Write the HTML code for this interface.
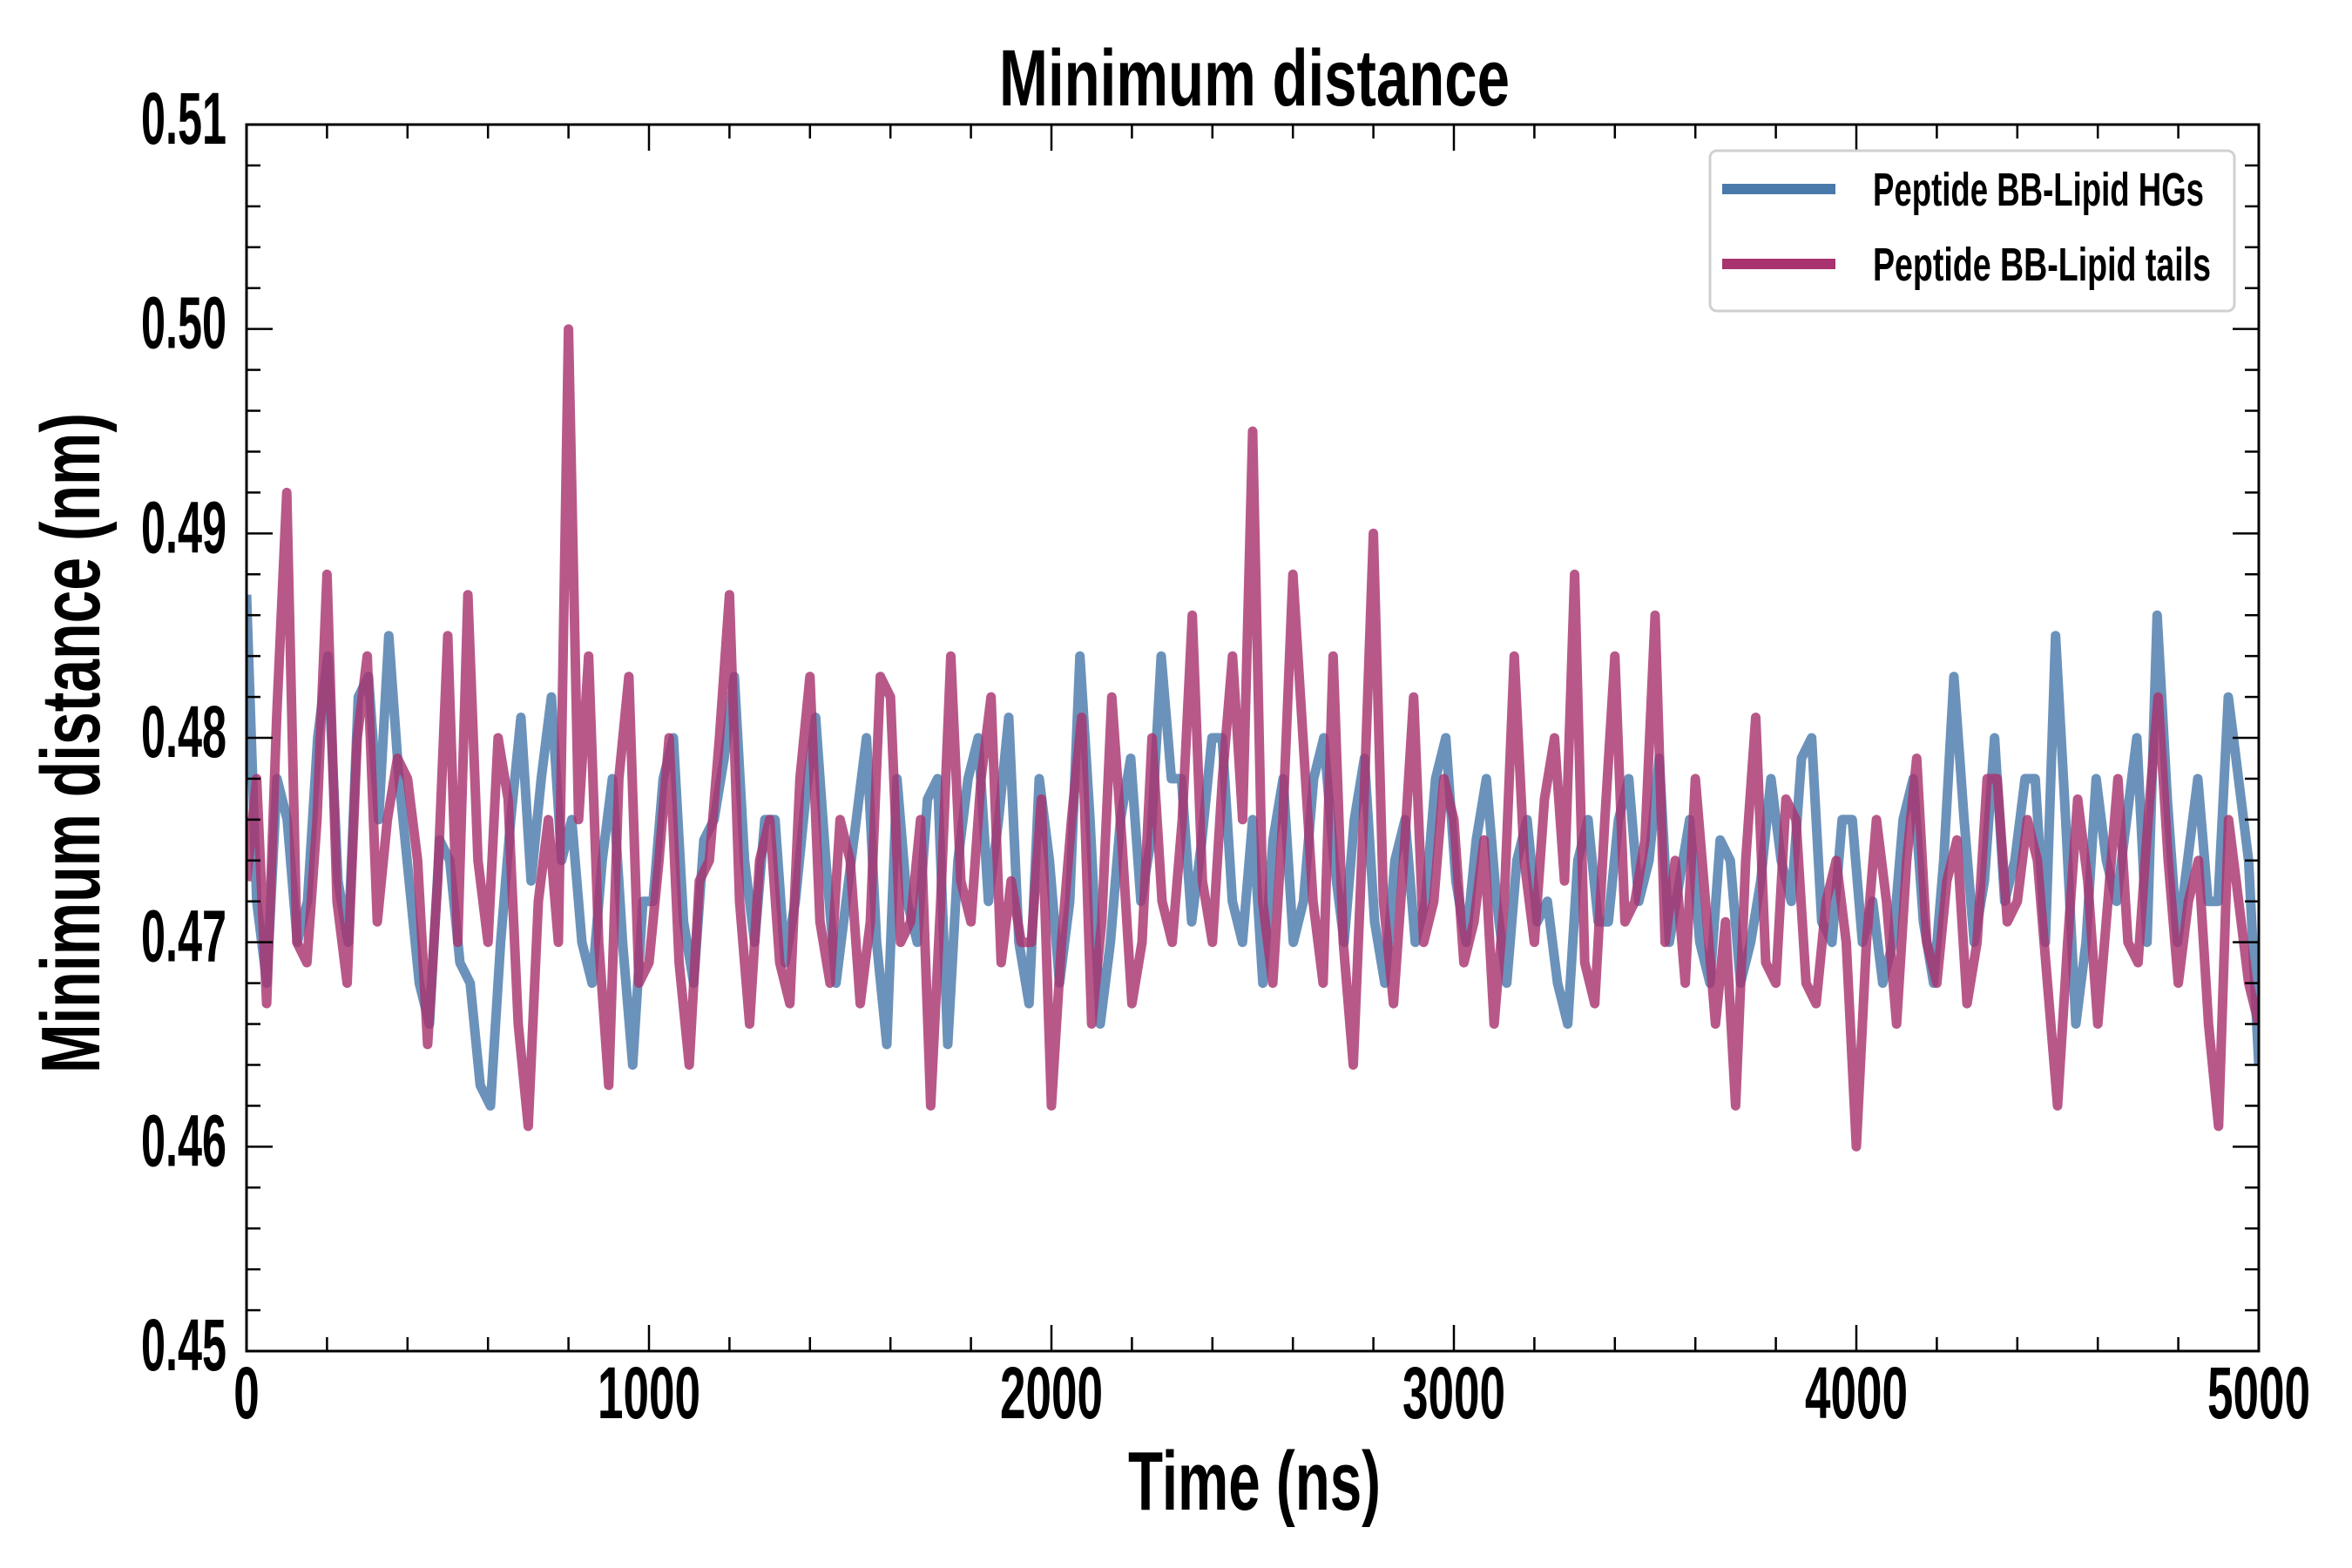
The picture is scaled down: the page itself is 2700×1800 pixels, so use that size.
<!DOCTYPE html>
<html><head><meta charset="utf-8">
<style>
html,body{margin:0;padding:0;background:#fff;}
svg{display:block;}
text{font-family:"Liberation Sans Narrow","Liberation Sans",sans-serif;font-weight:bold;fill:#000;}
</style></head>
<body>
<svg id="chart" width="2700" height="1800" xmlns="http://www.w3.org/2000/svg"></svg>
<script>
const xTicks = [0,1000,2000,3000,4000,5000];
const xTickLabels = ["0","1000","2000","3000","4000","5000"];
const yTicks = [0.45,0.46,0.47,0.48,0.49,0.50,0.51];
const yTickLabels = ["0.45","0.46","0.47","0.48","0.49","0.50","0.51"];
const seriesNames = ["Peptide BB-Lipid HGs","Peptide BB-Lipid tails"];
const hgValues = [0.487,0.472,0.468,0.478,0.476,0.470,0.472,0.480,0.484,0.473,0.470,0.482,0.483,0.476,0.485,0.478,0.473,0.468,0.466,0.475,0.474,0.469,0.468,0.463,0.462,0.470,0.476,0.481,0.473,0.478,0.482,0.474,0.476,0.470,0.468,0.474,0.478,0.470,0.464,0.472,0.472,0.478,0.480,0.471,0.468,0.475,0.476,0.479,0.483,0.474,0.470,0.476,0.476,0.469,0.472,0.477,0.481,0.474,0.468,0.472,0.476,0.480,0.470,0.465,0.478,0.472,0.470,0.477,0.478,0.465,0.474,0.478,0.480,0.472,0.476,0.481,0.470,0.467,0.478,0.474,0.468,0.472,0.484,0.476,0.466,0.470,0.476,0.479,0.472,0.475,0.484,0.478,0.478,0.471,0.475,0.480,0.480,0.472,0.470,0.476,0.468,0.475,0.478,0.470,0.472,0.478,0.480,0.474,0.470,0.476,0.479,0.471,0.468,0.474,0.476,0.470,0.472,0.478,0.480,0.473,0.470,0.475,0.478,0.472,0.468,0.474,0.476,0.471,0.472,0.468,0.466,0.474,0.476,0.471,0.471,0.476,0.478,0.472,0.474,0.479,0.470,0.473,0.476,0.470,0.468,0.475,0.474,0.468,0.470,0.473,0.478,0.474,0.472,0.479,0.480,0.471,0.470,0.476,0.476,0.470,0.472,0.468,0.470,0.476,0.478,0.471,0.468,0.474,0.483,0.476,0.470,0.473,0.480,0.472,0.474,0.478,0.478,0.470,0.485,0.476,0.466,0.470,0.478,0.474,0.472,0.476,0.480,0.470,0.486,0.477,0.470,0.474,0.478,0.472,0.472,0.482,0.478,0.474,0.464];
const tailValues = [0.473,0.478,0.467,0.481,0.492,0.470,0.469,0.476,0.488,0.472,0.468,0.480,0.484,0.471,0.476,0.479,0.478,0.474,0.465,0.473,0.485,0.470,0.487,0.474,0.470,0.480,0.477,0.466,0.461,0.472,0.476,0.470,0.500,0.476,0.484,0.470,0.463,0.478,0.483,0.468,0.469,0.474,0.480,0.469,0.464,0.473,0.474,0.480,0.487,0.472,0.466,0.474,0.476,0.469,0.467,0.478,0.483,0.471,0.468,0.476,0.474,0.467,0.471,0.483,0.482,0.470,0.471,0.476,0.462,0.472,0.484,0.473,0.471,0.478,0.482,0.469,0.473,0.470,0.470,0.477,0.462,0.470,0.476,0.481,0.466,0.471,0.482,0.475,0.467,0.470,0.480,0.472,0.470,0.476,0.486,0.473,0.470,0.478,0.484,0.476,0.495,0.472,0.468,0.476,0.488,0.480,0.472,0.468,0.484,0.470,0.464,0.476,0.490,0.472,0.467,0.474,0.482,0.470,0.472,0.478,0.476,0.469,0.471,0.475,0.466,0.472,0.484,0.474,0.470,0.477,0.480,0.473,0.488,0.469,0.467,0.476,0.484,0.471,0.472,0.475,0.486,0.470,0.474,0.468,0.478,0.472,0.466,0.471,0.462,0.474,0.481,0.469,0.468,0.477,0.476,0.468,0.467,0.472,0.474,0.470,0.460,0.470,0.476,0.472,0.466,0.474,0.479,0.470,0.468,0.473,0.475,0.467,0.470,0.478,0.478,0.471,0.472,0.476,0.474,0.468,0.462,0.470,0.477,0.473,0.466,0.472,0.478,0.470,0.469,0.476,0.482,0.474,0.468,0.472,0.474,0.466,0.461,0.476,0.472,0.468,0.466];

const NS = "http://www.w3.org/2000/svg";
const svg = document.getElementById('chart');
const L=283, R=2593, T=143, B=1551;
const xMin=0, xMax=5000, yMin=0.45, yMax=0.51;
function xs(v){return L+(v-xMin)/(xMax-xMin)*(R-L);}
function ys(v){return B-(v-yMin)/(yMax-yMin)*(B-T);}
function el(tag, attrs, parent){const e=document.createElementNS(NS,tag);for(const k in attrs)e.setAttribute(k,attrs[k]);(parent||svg).appendChild(e);return e;}

const defs=el('defs',{});
const cp=el('clipPath',{id:'plotclip'},defs);
el('rect',{x:L,y:T,width:R-L,height:B-T},cp);

function drawSeries(vals,color,name){
  const n=vals.length;
  let d='';
  vals.forEach((v,i)=>{const x=xs(i*(xMax-xMin)/(n-1)+xMin);d+=(i?'L':'M')+x.toFixed(1)+','+ys(v).toFixed(1);});
  const p=el('path',{d:d,fill:'none',stroke:color,'stroke-width':11,'stroke-opacity':0.82,'stroke-linejoin':'round','clip-path':'url(#plotclip)'});
  
  
}
drawSeries(hgValues,'#4a7aab','series-peptide-bb-lipid-hgs');
drawSeries(tailValues,'#a8336f','series-peptide-bb-lipid-tails');

const frame=el('rect',{x:L,y:T,width:R-L,height:B-T,fill:'none',stroke:'#000','stroke-width':3});



const tg=el('g',{stroke:'#000','stroke-width':2.5});


for(let v=0;v<=5000;v+=200){
  const x=xs(v); const len=(v%1000===0)?30:16;
  el('line',{x1:x,y1:B,x2:x,y2:B-len},tg);
  el('line',{x1:x,y1:T,x2:x,y2:T+len},tg);
}
for(let k=0;k<=30;k++){
  const v=0.45+k*0.002; const y=ys(v); const len=(k%5===0)?30:16;
  el('line',{x1:L,y1:y,x2:L+len,y2:y},tg);
  el('line',{x1:R,y1:y,x2:R-len,y2:y},tg);
}

function txt(x,y,s,size,anchor,width,name,rot){
  const t=el('text',{x:x,y:y,'font-size':size,'text-anchor':anchor});
  if(width){t.setAttribute('textLength',width);t.setAttribute('lengthAdjust','spacingAndGlyphs');}
  if(rot){t.setAttribute('transform','rotate(-90 '+x+' '+y+')');}
  t.textContent=s;
  
  
  return t;
}
xTicks.forEach((v,i)=>{
  const s=xTickLabels[i];
  txt(xs(v),1628,s,84,'middle',s.length*29.5,'x-tick-label');
});
yTicks.forEach((v,i)=>{
  txt(260,ys(v)+22,yTickLabels[i],84,'end',98,'y-tick-label');
});
txt(1440,121,'Minimum distance',92,'middle',586,'chart-title');
txt(1440,1733,'Time (ns)',96,'middle',290,'x-axis-title');
txt(114,853,'Minimum distance (nm)',96,'middle',758,'y-axis-title',true);

const lg=el('g',{});


el('rect',{x:1963,y:173,width:602,height:184,rx:8,fill:'#fff','fill-opacity':0.85,stroke:'#d0d0d0','stroke-width':3},lg);
const legColors=['#4a7aab','#a8336f'];
const legY=[217,303];
seriesNames.forEach((s,i)=>{
  const ln=el('line',{x1:1977,y1:legY[i],x2:2107,y2:legY[i],stroke:legColors[i],'stroke-width':12},lg);
  
  
  const t=txt(2150,legY[i]+19,s,54,'start',i?388:380,'legend-entry');
  lg.appendChild(t);
});
</script>
</body></html>
